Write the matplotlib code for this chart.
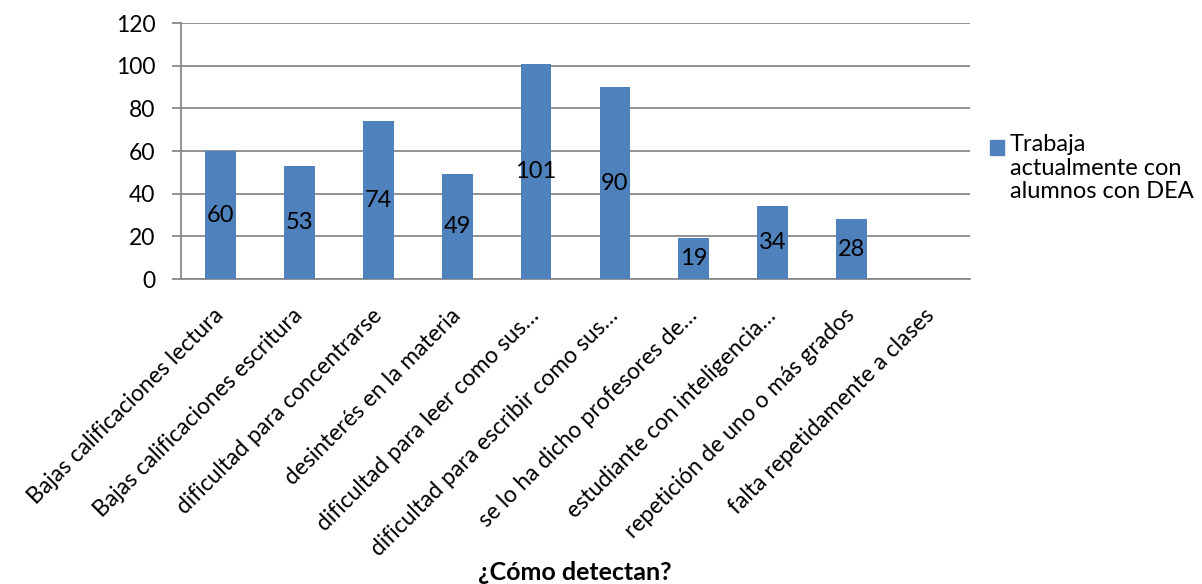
import numpy as np
import matplotlib
matplotlib.use("Agg")
import matplotlib.pyplot as plt
from matplotlib.patches import Rectangle

plt.rcParams['font.family'] = ['Lato', 'DejaVu Sans']

categories = [
    "Bajas calificaciones lectura",
    "Bajas calificaciones escritura",
    "dificultad para concentrarse",
    "desinterés en la materia",
    "dificultad para leer como sus…",
    "dificultad para escribir como sus…",
    "se lo ha dicho profesores de…",
    "estudiante con inteligencia…",
    "repetición de uno o más grados",
    "falta repetidamente a clases",
]
values = [60, 53, 74, 49, 101, 90, 19, 34, 28, np.nan]
series_name = "Trabaja\nactualmente con\nalumnos con DEA"
yticks = [0, 20, 40, 60, 80, 100, 120]

bar_color = "#4F81BD"
grid_color = "#898989"

W, H = 1202, 584
fig = plt.figure(figsize=(W / 100, H / 100), dpi=100)
ax = fig.add_axes([181 / W, 1 - 279 / H, (970 - 181) / W, (279 - 23) / H])

x = np.arange(len(categories))
ax.bar(x, np.nan_to_num(values), width=0.39, color=bar_color, zorder=3)

# value labels centered in bars
for xi, v in zip(x, values):
    if not np.isnan(v):
        ax.text(xi, v / 2, f"{int(v)}", ha="center", va="center",
                fontsize=17, color="black", zorder=4)

ax.set_xlim(-0.5, len(categories) - 0.5)
ax.set_ylim(0, 120)
ax.set_yticks(yticks)
ax.set_yticklabels([str(t) for t in yticks], fontsize=16.5)
ax.yaxis.grid(True, color=grid_color, linewidth=1.3, zorder=0)
ax.set_axisbelow(True)

for side in ["top", "right"]:
    ax.spines[side].set_visible(False)
for side in ["left", "bottom"]:
    ax.spines[side].set_color(grid_color)
    ax.spines[side].set_linewidth(1.3)

ax.tick_params(axis="y", length=6.5, width=1.3, color=grid_color, pad=12)
ax.tick_params(axis="x", length=0, pad=24)
ax.set_xticks(x)
ax.set_xticklabels(categories, rotation=45, ha="right", va="center",
                   rotation_mode="anchor", fontsize=16.5)

# axis title
fig.text(575 / W, 1 - 573 / H, "¿Cómo detectan?", fontsize=18,
         fontweight="bold", ha="center", va="center")

# legend
fig.patches.append(Rectangle((990 / W, 1 - 155 / H), 14 / W, 15 / H,
                             transform=fig.transFigure, color=bar_color))
fig.text(1010 / W, 1 - 134 / H, series_name, fontsize=17, va="top",
         ha="left", linespacing=1.15)

fig.savefig("out.png", dpi=100)
